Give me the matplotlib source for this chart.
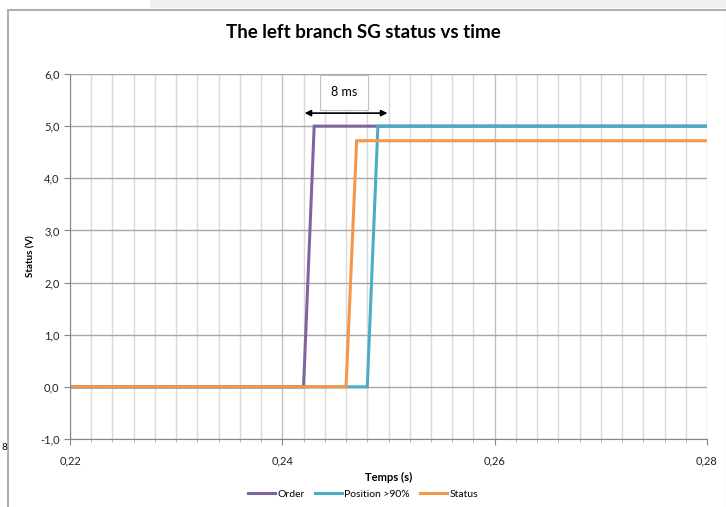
import matplotlib.pyplot as plt
from matplotlib.ticker import MultipleLocator, FuncFormatter
from matplotlib.patches import Rectangle

plt.rcParams["font.family"] = ["Lato", "DejaVu Sans"]

# data (time in s, voltage in V)
t_order = [0.20, 0.242, 0.243, 0.30]
v_order = [0.0, 0.0, 5.0, 5.0]
t_position = [0.20, 0.248, 0.249, 0.30]
v_position = [0.0, 0.0, 5.0, 5.0]
t_status = [0.20, 0.246, 0.247, 0.30]
v_status = [0.0, 0.0, 4.72, 4.72]

labels = ["Order", "Position >90%", "Status"]
colors = ["#8064A2", "#4BACC6", "#F79646"]

fig = plt.figure(figsize=(7.26, 5.07), dpi=100)

# chart frame like the spreadsheet
fig.patches.append(Rectangle((150 / 726, 1 - 8 / 507), 576 / 726, 8 / 507,
                             transform=fig.transFigure, facecolor="#f0f0f0",
                             edgecolor="none"))
fig.patches.append(Rectangle((8 / 726, -0.01), 0.99, 1 - 10 / 507 + 0.01,
                             transform=fig.transFigure, facecolor="none",
                             edgecolor="#b0b0b0", linewidth=1.5))
fig.text(2 / 726, 1 - 447 / 507, "8", fontsize=7, va="center")

ax = fig.add_axes([70 / 726, 1 - 439 / 507, 637 / 726, 365 / 507])

for t, v, lab, c in zip([t_order, t_position, t_status],
                        [v_order, v_position, v_status], labels, colors):
    ax.plot(t, v, color=c, lw=2.2, label=lab, solid_joinstyle="miter")

ax.set_xlim(0.22, 0.28)
ax.set_ylim(-1.0, 6.0)
ax.xaxis.set_major_locator(MultipleLocator(0.02))
ax.xaxis.set_minor_locator(MultipleLocator(0.002))
ax.yaxis.set_major_locator(MultipleLocator(1.0))
ax.xaxis.set_major_formatter(FuncFormatter(lambda x, p: f"{x:.2f}".replace(".", ",")))
ax.yaxis.set_major_formatter(FuncFormatter(lambda y, p: f"{y:.1f}".replace(".", ",")))

ax.grid(True, which="minor", axis="x", color="#d9d9d9", lw=1)
ax.grid(True, which="major", axis="x", color="#bfbfbf", lw=1)
ax.grid(True, which="major", axis="y", color="#a6a6a6", lw=1)
ax.set_axisbelow(True)

for s in ["top", "right"]:
    ax.spines[s].set_visible(False)
for s in ["left", "bottom"]:
    ax.spines[s].set_color("#868686")

ax.tick_params(axis="both", which="major", labelsize=8, color="#868686",
               length=4, labelcolor="#222222")
ax.tick_params(axis="x", which="major", pad=8)
ax.tick_params(axis="x", which="minor", length=2, color="#a6a6a6")

ax.set_xlabel("Temps (s)", fontsize=8, fontweight="bold", labelpad=4)
ax.set_ylabel("Status (V)", fontsize=7, fontweight="bold", labelpad=3)
fig.text(0.5, 1 - 33 / 507, "The left branch SG status vs time",
         fontsize=13.5, fontweight="bold", ha="center", va="center")

# 8 ms annotation
ax.annotate("", xy=(0.2421, 5.25), xytext=(0.2499, 5.25),
            arrowprops=dict(arrowstyle="<|-|>", color="black", lw=1.2,
                            mutation_scale=9, shrinkA=0, shrinkB=0))
ax.text(0.2458, 5.65, "8 ms", fontsize=9, ha="center", va="center",
        bbox=dict(boxstyle="square,pad=0.9", facecolor="white",
                  edgecolor="#bfbfbf", lw=0.8))

fig.legend(loc="center", bbox_to_anchor=(0.5, 1 - 494 / 507), ncol=3,
           frameon=False, fontsize=7.5, handlelength=2.6, columnspacing=1.0,
           handletextpad=0.2)

fig.savefig("out.png", dpi=100)
